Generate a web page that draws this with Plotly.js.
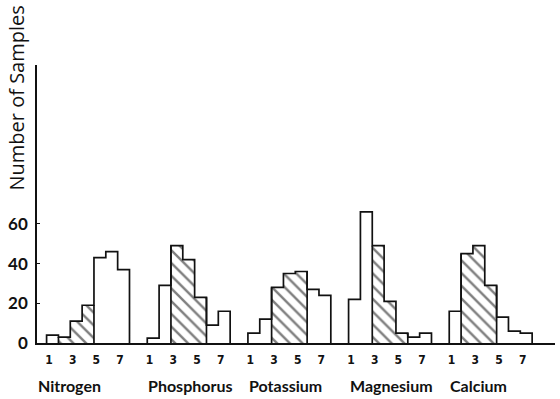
<!DOCTYPE html>
<html>
<head>
<meta charset="utf-8">
<script src="https://cdn.plot.ly/plotly-3.0.1.min.js"></script>
<style>
  html, body { margin: 0; padding: 0; background: #fff; }
  #chart { width: 560px; height: 399px; }
</style>
</head>
<body>
<div id="chart"></div>
<script>
// Nutrient rank distributions: number of samples per rank (1-7)
const ranks = [1, 2, 3, 4, 5, 6, 7];
const nutrients = ['Nitrogen', 'Phosphorus', 'Potassium', 'Magnesium', 'Calcium'];
const nitrogen   = [4, 3, 11, 19, 43, 46, 37];
const phosphorus = [2.5, 29, 49, 42, 23, 9, 16];
const potassium  = [5, 12, 28, 35, 36, 27, 24];
const magnesium  = [22, 66, 49, 21, 5, 3, 5];
const calcium    = [16, 45, 49, 29, 13, 6, 5];
// first and last rank of the shaded (hatched) band in each nutrient
const hatchedFirst = [2, 3, 3, 3, 2];
const hatchedLast  = [4, 5, 5, 5, 4];
const rankTickLabels = [1, 3, 5, 7];

const series = [nitrogen, phosphorus, potassium, magnesium, calcium];

// layout of groups along a numeric axis, one unit per bar
const groupStep = 8.5;
const pos = (g, r) => g * groupStep + r;

const barX = [], barY = [], barShape = [];
series.forEach((vals, g) => {
  vals.forEach((v, i) => {
    const r = ranks[i];
    barX.push(pos(g, r));
    barY.push(v);
    barShape.push(r >= hatchedFirst[g] && r <= hatchedLast[g] ? '\\' : '');
  });
});

const traces = [{
  type: 'bar',
  x: barX,
  y: barY,
  width: 1,
  marker: {
    color: 'white',
    line: { width: 0 },
    pattern: { shape: barShape, fgcolor: '#000', bgcolor: 'white', size: 9, solidity: 0.27, fillmode: 'overlay' }
  },
  hoverinfo: 'x+y',
  showlegend: false
}];

// histogram step outline of each group, plus the sides of the hatched band
const outline = { color: '#111', width: 1.7 };
series.forEach((vals, g) => {
  const xs = [], ys = [];
  const left = pos(g, ranks[0]) - 0.5;
  xs.push(left); ys.push(0);
  vals.forEach((v, i) => {
    const l = pos(g, ranks[i]) - 0.5;
    xs.push(l, l + 1); ys.push(v, v);
  });
  xs.push(pos(g, ranks[ranks.length - 1]) + 0.5); ys.push(0);
  traces.push({ type: 'scatter', mode: 'lines', x: xs, y: ys, line: outline, hoverinfo: 'skip', showlegend: false });

  const iFirst = ranks.indexOf(hatchedFirst[g]);
  const iLast = ranks.indexOf(hatchedLast[g]);
  const hl = pos(g, hatchedFirst[g]) - 0.5;
  const hr = pos(g, hatchedLast[g]) + 0.5;
  traces.push({ type: 'scatter', mode: 'lines', x: [hl, hl, null, hr, hr], y: [0, vals[iFirst], null, 0, vals[iLast]],
                line: outline, hoverinfo: 'skip', showlegend: false });
});

const tickVals = [], tickText = [];
series.forEach((vals, g) => {
  rankTickLabels.forEach(r => { tickVals.push(pos(g, r) - 0.3); tickText.push(String(r)); });
});

const annotations = nutrients.map((name, g) => ({
  text: '<b>' + name + '</b>',
  x: pos(g, ranks[0]) - 0.5,
  xref: 'x',
  y: 0,
  yref: 'paper',
  yshift: -42,
  xshift: g === 0 ? -11 : -1,
  xanchor: 'left',
  yanchor: 'middle',
  showarrow: false,
  font: { family: 'Lato, "Open Sans", sans-serif', size: 16, color: '#111' }
}));

annotations.push({
  text: 'Number of Samples',
  textangle: -90,
  xref: 'paper', yref: 'paper',
  x: 0, xshift: -21,
  y: 1, yshift: 61,
  xanchor: 'center', yanchor: 'top',
  showarrow: false,
  font: { family: '"Open Sans", Lato, sans-serif', size: 20, color: '#111' }
});

const layout = {
  width: 560,
  height: 399,
  margin: { l: 37, r: 5, t: 65, b: 56 },
  paper_bgcolor: 'white',
  plot_bgcolor: 'white',
  bargap: 0,
  showlegend: false,
  xaxis: {
    range: [-0.31, 43.43],
    showgrid: false,
    zeroline: false,
    showline: true,
    linecolor: '#111',
    linewidth: 1.7,
    ticks: '',
    tickmode: 'array',
    tickvals: tickVals,
    ticktext: tickText,
    ticklabelstandoff: 5,
    tickfont: { family: '"DejaVu Sans Condensed", "Liberation Sans Narrow", sans-serif', size: 12, color: '#111', weight: 'bold' }
  },
  yaxis: {
    range: [0, 140],
    showgrid: false,
    zeroline: false,
    showline: true,
    linecolor: '#111',
    linewidth: 1.8,
    ticks: 'inside',
    ticklen: 3,
    tickwidth: 1.2,
    tickcolor: '#111',
    tickmode: 'array',
    tickvals: [0, 20, 40, 60],
    ticklabelstandoff: 4,
    tickfont: { family: 'Lato, "Open Sans", sans-serif', size: 17, color: '#111', weight: 'bold' }
  },
  annotations: annotations
};

Plotly.newPlot('chart', traces, layout, { displayModeBar: false, staticPlot: true });
</script>
</body>
</html>
